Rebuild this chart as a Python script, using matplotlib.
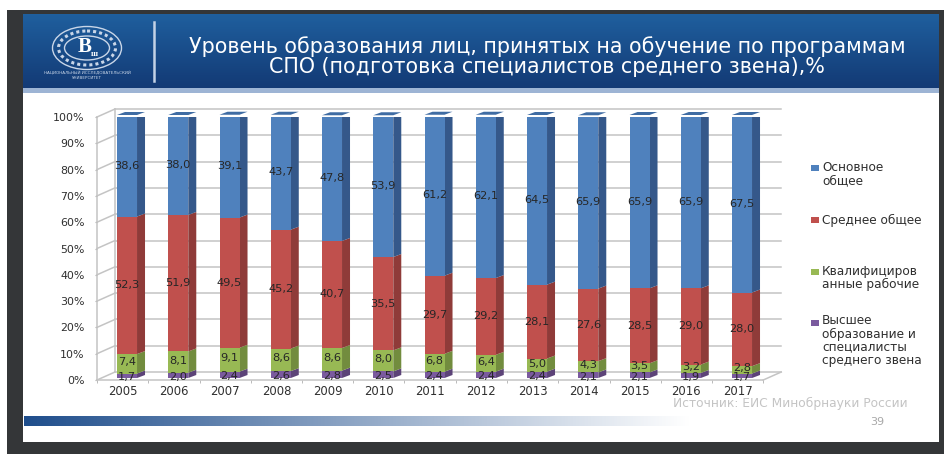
import numpy as np
import matplotlib
matplotlib.use("Agg")
import matplotlib.pyplot as plt
from matplotlib.patches import Rectangle, Ellipse
from matplotlib.transforms import offset_copy

W, H = 945, 454

years = [2005, 2006, 2007, 2008, 2009, 2010, 2011, 2012, 2013, 2014, 2015, 2016, 2017]
higher = [1.7, 2.0, 2.4, 2.6, 2.8, 2.5, 2.4, 2.4, 2.4, 2.1, 2.1, 1.9, 1.7]
skilled = [7.4, 8.1, 9.1, 8.6, 8.6, 8.0, 6.8, 6.4, 5.0, 4.3, 3.5, 3.2, 2.8]
secondary = [52.3, 51.9, 49.5, 45.2, 40.7, 35.5, 29.7, 29.2, 28.1, 27.6, 28.5, 29.0, 28.0]
basic = [38.6, 38.0, 39.1, 43.7, 47.8, 53.9, 61.2, 62.1, 64.5, 65.9, 65.9, 65.9, 67.5]

series = [higher, skilled, secondary, basic]
front_cols = ["#7a5a9e", "#98b954", "#c0504d", "#4f81bd"]
side_cols = ["#5c4378", "#728c3e", "#8f3b39", "#35588a"]
label_shift = [-1.5, 1.5, 0, 0]

legend_labels = ["Основное\nобщее", "Среднее общее", "Квалифициров\nанные рабочие",
                 "Высшее\nобразование и\nспециалисты\nсреднего звена"]
legend_y = [174, 220, 278, 340.5]
legend_cols = ["#4f81bd", "#c0504d", "#98b954", "#7a5a9e"]

title = "Уровень образования лиц, принятых на обучение по программам\nСПО (подготовка специалистов среднего звена),%"
source = "Источник: ЕИС Минобрнауки России"
page_no = "39"

TXT = "#2f2f2f"


def px_axes(fig):
    ax = fig.add_axes([0, 0, 1, 1], zorder=0)
    ax.set_xlim(0, W)
    ax.set_ylim(H, 0)
    ax.axis("off")
    return ax


def draw_logo(bg):
    line = "#c9d6e8"
    bg.add_patch(Ellipse((87, 48), 69, 43, fc="none", ec=line, lw=1.0, zorder=2))
    bg.add_patch(Ellipse((87, 48), 57, 34, fc="none", ec=line, lw=2.2, ls=(0, (1, 1)), zorder=2))
    bg.add_patch(Ellipse((87, 48), 45, 24, fc="none", ec=line, lw=1.0, zorder=2))
    bg.text(85, 47, "В", color="white", fontsize=15, fontweight="bold", ha="center",
            va="center", family="Liberation Serif", zorder=3)
    bg.text(94, 54, "ш", color="white", fontsize=6, fontweight="bold", ha="center",
            va="center", family="Liberation Serif", zorder=3)
    bg.text(87, 76, "НАЦИОНАЛЬНЫЙ ИССЛЕДОВАТЕЛЬСКИЙ\nУНИВЕРСИТЕТ", color=line, fontsize=3.0,
            ha="center", va="center", zorder=3)


def draw_slide(bg):
    bg.add_patch(Rectangle((7, 10), W - 7, H - 10, color="#343638", lw=0))
    bg.add_patch(Rectangle((23, 14), 916, 428, color="white", lw=0))
    # шапка
    grad = np.linspace(0, 1, 64).reshape(-1, 1)
    cmap = matplotlib.colors.LinearSegmentedColormap.from_list("hdr", ["#1f5f9e", "#133a75"])
    bg.imshow(grad, cmap=cmap, extent=(23, 939, 88, 14), aspect="auto", zorder=1)
    bg.add_patch(Rectangle((23, 88), 916, 4.5, color="#9db4d4", lw=0, zorder=2))
    bg.plot([154, 154], [22, 81], color="#c3d2e6", lw=1.8, zorder=2)
    draw_logo(bg)
    bg.text(547, 56.5, title, color="white", fontsize=14.9, ha="center", va="center",
            family="DejaVu Sans", linespacing=0.95, zorder=3)
    # нижняя полоса
    fade = np.linspace(0, 1, 256).reshape(1, -1)
    cmap2 = matplotlib.colors.LinearSegmentedColormap.from_list("bar", ["#1f4e8c", "#ffffff"])
    bg.imshow(fade, cmap=cmap2, extent=(24, 690, 426, 416), aspect="auto", zorder=1)
    bg.set_xlim(0, W)
    bg.set_ylim(H, 0)
    bg.text(790, 403, source, color="#c4c4c4", fontsize=8.8, ha="center", va="center")
    bg.text(877, 422, page_no, color="#a8a8a8", fontsize=8, ha="center", va="center")
    # легенда
    for lab, y, c in zip(legend_labels, legend_y, legend_cols):
        first = y - (lab.count("\n") * 11.7) / 2
        bg.add_patch(Rectangle((811, first - 3), 8, 6, color=c, lw=0))
        bg.text(822, y, lab, color=TXT, fontsize=8.7, ha="left", va="center", linespacing=1.0)


def draw_walls(ax, fig):
    grid = "#c4c4c4"
    back = offset_copy(ax.transData, fig=fig, x=18, y=8, units="dots")
    xl = ax.get_xlim()
    for v in range(0, 101, 10):
        ax.plot(xl, [v, v], color=grid, lw=1.1, transform=back, zorder=1, clip_on=False)
    ax.plot([xl[0], xl[0]], [0, 100], color=grid, lw=1.1, transform=back, zorder=1, clip_on=False)
    # диагонали от передней оси к задней стенке
    dx = 18 / (ax.get_position().width * W) * (xl[1] - xl[0])
    dy = 8 / (ax.get_position().height * H) * 100
    for v in range(0, 101, 10):
        ax.plot([xl[0], xl[0] + dx], [v, v + dy], color=grid, lw=1.1, zorder=1, clip_on=False)
    ax.plot([xl[1], xl[1] + dx], [0, dy], color=grid, lw=1.1, zorder=1, clip_on=False)


fig = plt.figure(figsize=(W / 100, H / 100), dpi=100, facecolor="white")
bg = px_axes(fig)
draw_slide(bg)

left, right, top, bottom = 97, 763.25, 117, 380
ax = fig.add_axes([left / W, (H - bottom) / H, (right - left) / W, (bottom - top) / H], zorder=2)
ax.patch.set_alpha(0)
x = np.arange(len(years))
ax.set_xlim(-0.5, len(years) - 0.5)
ax.set_ylim(0, 100)
for s in ["top", "right"]:
    ax.spines[s].set_visible(False)
for s in ["left", "bottom"]:
    ax.spines[s].set_color("#c4c4c4")
    ax.spines[s].set_linewidth(1.1)

ax.set_yticks(range(0, 101, 10))
ax.set_yticklabels([f"{v}%" for v in range(0, 101, 10)], fontsize=7.9, color=TXT)
ax.set_xticks(x)
ax.set_xticklabels(years, fontsize=8.4, color=TXT)
ax.set_xticks(np.arange(-0.5, len(years)), minor=True)
ax.tick_params(axis="x", which="major", length=0, pad=3.5)
ax.tick_params(axis="x", which="minor", length=2.5, color="#b0b0b0")
ax.tick_params(axis="y", length=1.5, color="#b0b0b0", pad=7.5)

draw_walls(ax, fig)

bar_w = 20 / 51.25
depth_x = 8 / 51.25
depth_y = 3 / (bottom - top) * 100
front = offset_copy(ax.transData, fig=fig, x=4.4, y=2, units="dots")

bottoms = np.zeros(len(years))
for vals, fc, sc, shift in zip(series, front_cols, side_cols, label_shift):
    vals = np.array(vals)
    ax.bar(x, vals, bar_w, bottom=bottoms, color=fc, lw=0, transform=front, zorder=3)
    lab_tr = offset_copy(front, fig=fig, x=0, y=shift, units="dots")
    for xi, b, v in zip(x, bottoms, vals):
        r = xi + bar_w / 2
        ax.fill([r, r + depth_x, r + depth_x, r], [b, b + depth_y, b + v + depth_y, b + v],
                color=sc, lw=0, transform=front, zorder=2.9)
        ax.text(xi, b + v / 2, f"{v:.1f}".replace(".", ","), fontsize=8.2, color="#262626",
                ha="center", va="center", transform=lab_tr, zorder=4, clip_on=False)
    bottoms = bottoms + vals

# верх столбцов
for xi, t in zip(x, bottoms):
    l, r = xi - bar_w / 2, xi + bar_w / 2
    ax.fill([l, l + depth_x, r + depth_x, r], [t, t + depth_y, t + depth_y, t],
            color="#3f6ca3", lw=0, transform=front, zorder=3, clip_on=False)

fig.savefig("out.png", dpi=100, facecolor="white")
